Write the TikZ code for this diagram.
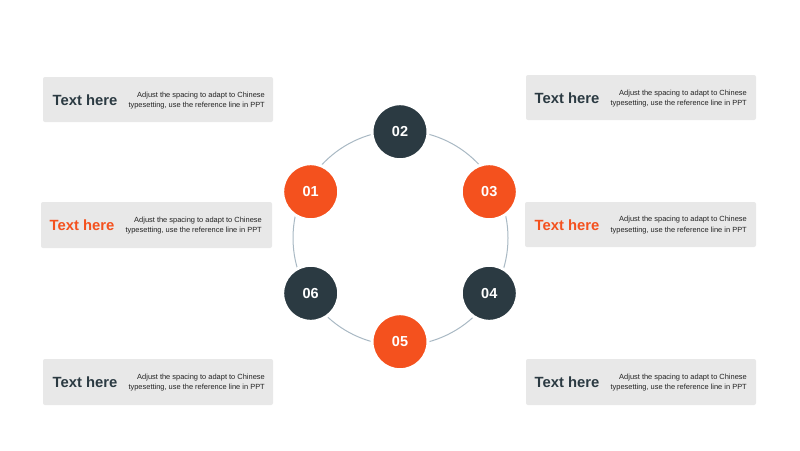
\documentclass[tikz,border=0pt]{standalone}
\usepackage{fontspec}
\setmainfont{Liberation Sans}
\definecolor{darkc}{HTML}{2B3A42}
\definecolor{orangec}{HTML}{F4511E}
\definecolor{boxc}{HTML}{E8E8E8}
\definecolor{ringc}{HTML}{A9B9C4}
\definecolor{bodyc}{HTML}{222222}
\begin{document}
\begin{tikzpicture}[x=1pt,y=-1pt,
  numnode/.style={circle,minimum size=56pt,inner sep=0pt,draw=white,line width=3pt,text=white,font=\fontsize{14.5}{14.5}\selectfont\bfseries},
  darknum/.style={numnode,fill=darkc},
  orangenum/.style={numnode,fill=orangec},
  infobox/.style={rounded corners=2pt,fill=boxc,draw=none},
  titletext/.style={font=\fontsize{14.8}{16}\selectfont\bfseries,inner sep=0pt},
  bodytext/.style={font=\fontsize{7.45}{10.8}\selectfont,text=bodyc,align=right,inner sep=0pt,anchor=east}
]
\useasboundingbox[fill=white] (0,0) rectangle (800,450);
% ring
\draw[ringc,line width=1pt] (400.5,238) circle (107.5);
% number nodes
\node[darknum]   (n02) at (400,131.7) {02};
\node[orangenum] (n01) at (310.7,191.7) {01};
\node[orangenum] (n03) at (489.3,191.7) {03};
\node[darknum]   (n06) at (310.7,293.3) {06};
\node[darknum]   (n04) at (489.3,293.3) {04};
\node[orangenum] (n05) at (400,341.7) {05};
% boxes
\fill[infobox] (43,77) rectangle (273,122);
\fill[infobox] (526,75) rectangle (756,120);
\fill[infobox] (41,202) rectangle (272,248);
\fill[infobox] (525,202) rectangle (756,247);
\fill[infobox] (43,359) rectangle (273,405);
\fill[infobox] (526,359) rectangle (756,405);
% titles
\node[titletext,text=darkc]   (t1) at (85,100) {Text here};
\node[titletext,text=darkc]   (t2) at (567,98) {Text here};
\node[titletext,text=orangec] (t3) at (82,225.5) {Text here};
\node[titletext,text=orangec] (t4) at (567,225) {Text here};
\node[titletext,text=darkc]   (t5) at (85,382.5) {Text here};
\node[titletext,text=darkc]   (t6) at (567,382.5) {Text here};
% body
\node[bodytext] (b1) at (265,100.5) {Adjust the spacing to adapt to Chinese\\typesetting, use the reference line in PPT};
\node[bodytext] (b2) at (747,98.5) {Adjust the spacing to adapt to Chinese\\typesetting, use the reference line in PPT};
\node[bodytext] (b3) at (262,225.5) {Adjust the spacing to adapt to Chinese\\typesetting, use the reference line in PPT};
\node[bodytext] (b4) at (747,225) {Adjust the spacing to adapt to Chinese\\typesetting, use the reference line in PPT};
\node[bodytext] (b5) at (265,382.5) {Adjust the spacing to adapt to Chinese\\typesetting, use the reference line in PPT};
\node[bodytext] (b6) at (747,382.5) {Adjust the spacing to adapt to Chinese\\typesetting, use the reference line in PPT};
\end{tikzpicture}
\end{document}
